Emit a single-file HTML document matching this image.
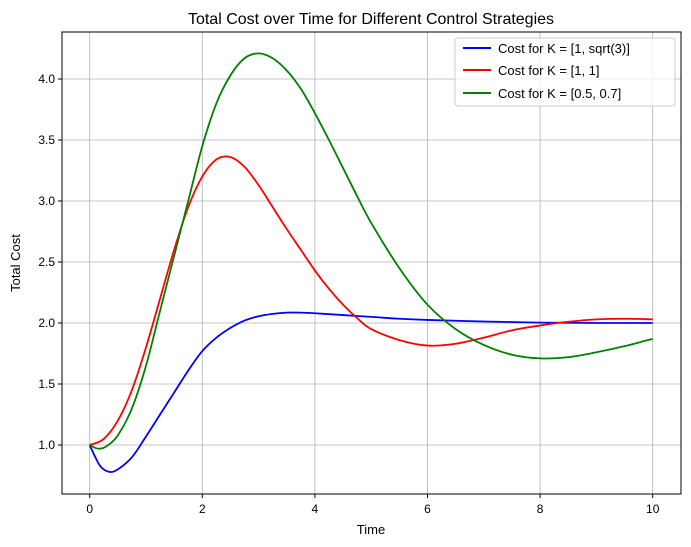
<!DOCTYPE html>
<html><head><meta charset="utf-8"><style>
body{margin:0;background:#fff;}
svg{display:block;font-family:"Liberation Sans","DejaVu Sans",sans-serif;}
</style></head><body>
<svg id="chart" width="691" height="547">
<rect width="691" height="547" fill="#fff"/>
<g id="grid"></g>
<g id="series"></g>
<rect x="62" y="32" width="619" height="462" fill="none" stroke="#000" stroke-width="1"/>
<g id="ticks"></g>
<text x="371" y="24" text-anchor="middle" font-size="16">Total Cost over Time for Different Control Strategies</text>
<text x="371" y="534" text-anchor="middle" font-size="13">Time</text>
<text x="20" y="263" text-anchor="middle" font-size="13" transform="rotate(-90 20 263)">Total Cost</text>
<g>
<rect x="455" y="38" width="220" height="68" fill="#fff" fill-opacity="0.8" stroke="#ccc" rx="3"/>
<g><line x1="463" y1="48" x2="491" y2="48" stroke="#0000ff" stroke-width="2"/><text x="498" y="53" font-size="13">Cost for K = [1, sqrt(3)]</text></g>
<g><line x1="463" y1="70" x2="491" y2="70" stroke="#ff0000" stroke-width="2"/><text x="498" y="75" font-size="13">Cost for K = [1, 1]</text></g>
<g><line x1="463" y1="93" x2="491" y2="93" stroke="#008000" stroke-width="2"/><text x="498" y="98" font-size="13">Cost for K = [0.5, 0.7]</text></g>
</g>
</svg>
<script>
const xTicks=[0,2,4,6,8,10];
const yTicks=[1.0,1.5,2.0,2.5,3.0,3.5,4.0];
const blueT=[0,0.1,0.2,0.35,0.5,0.75,1,1.25,1.5,1.75,2,2.25,2.5,2.75,3,3.25,3.5,3.75,4,4.5,5,5.5,6,7,8,9,10];
const blueV=[1.0,0.9,0.82,0.78,0.8,0.9,1.07,1.25,1.43,1.61,1.77,1.88,1.96,2.02,2.055,2.075,2.085,2.085,2.08,2.065,2.05,2.035,2.025,2.012,2.003,2.0,2.0];
const redT=[0,0.25,0.5,0.75,1,1.25,1.5,1.75,2,2.25,2.5,2.75,3,3.25,3.5,3.75,4,4.25,4.5,4.75,5,5.5,6,6.5,7,7.5,8,8.5,9,9.5,10];
const redV=[1.0,1.05,1.2,1.45,1.8,2.2,2.6,2.95,3.2,3.34,3.36,3.28,3.13,2.95,2.77,2.6,2.43,2.28,2.15,2.04,1.95,1.86,1.815,1.83,1.88,1.94,1.98,2.01,2.03,2.035,2.03];
const greenT=[0,0.15,0.3,0.5,0.75,1,1.25,1.5,1.75,2,2.25,2.5,2.75,3,3.25,3.5,3.75,4,4.25,4.5,4.75,5,5.5,6,6.5,7,7.5,8,8.5,9,9.5,10];
const greenV=[1.0,0.97,0.99,1.08,1.3,1.65,2.1,2.55,3.0,3.45,3.8,4.03,4.17,4.21,4.17,4.07,3.92,3.72,3.5,3.27,3.04,2.82,2.45,2.15,1.95,1.82,1.74,1.71,1.72,1.76,1.81,1.87];
const NS='http://www.w3.org/2000/svg';
function X(t){return 89.7+t*56.3;}
function Y(v){return 445-(v-1)*122;}
const grid=document.getElementById('grid'),ticks=document.getElementById('ticks'),ser=document.getElementById('series');
function mk(tag,attrs,parent){const e=document.createElementNS(NS,tag);for(const k in attrs)e.setAttribute(k,attrs[k]);parent.appendChild(e);return e;}
xTicks.forEach(t=>{
 const l=mk('line',{x1:X(t),x2:X(t),y1:32,y2:494,stroke:'#b0b0b0','stroke-width':0.8},grid);
 
 
 mk('line',{x1:X(t),x2:X(t),y1:494,y2:498,stroke:'#000'},ticks);
 const tx=mk('text',{x:X(t),y:513,'text-anchor':'middle','font-size':12},ticks);tx.textContent=t;
 
 
});
yTicks.forEach(v=>{
 const l=mk('line',{x1:62,x2:681,y1:Y(v),y2:Y(v),stroke:'#b0b0b0','stroke-width':0.8},grid);
 
 
 mk('line',{x1:58,x2:62,y1:Y(v),y2:Y(v),stroke:'#000'},ticks);
 const tx=mk('text',{x:55,y:Y(v)+4,'text-anchor':'end','font-size':12},ticks);tx.textContent=v.toFixed(1);
 
 
});
function path(T,V){
 const p=T.map((t,i)=>[X(t),Y(V[i])]);
 let d='M'+p[0][0]+','+p[0][1];
 for(let i=0;i<p.length-1;i++){
  const p0=p[i-1]||p[i],p1=p[i],p2=p[i+1],p3=p[i+2]||p2;
  const c1=[p1[0]+(p2[0]-p0[0])/6,p1[1]+(p2[1]-p0[1])/6];
  const c2=[p2[0]-(p3[0]-p1[0])/6,p2[1]-(p3[1]-p1[1])/6];
  d+=' C'+c1+' '+c2+' '+p2;
 }
 return d;
}
[[blueT,blueV,'#0000ff','line-blue'],[redT,redV,'#ff0000','line-red'],[greenT,greenV,'#008000','line-green']].forEach(s=>{
 const e=mk('path',{d:path(s[0],s[1]),fill:'none',stroke:s[2],'stroke-width':1.8},ser);
 
 
});
</script>
</body></html>
